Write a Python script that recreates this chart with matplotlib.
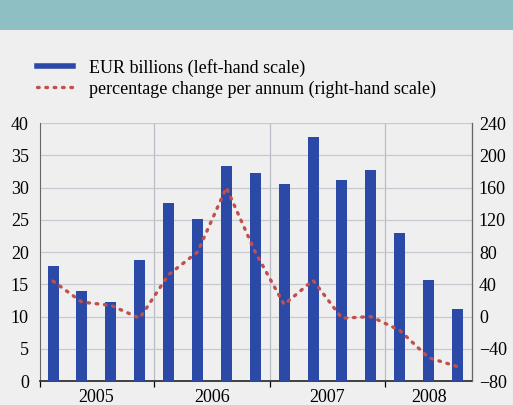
import matplotlib.pyplot as plt
import numpy as np
from matplotlib.patches import Rectangle
from matplotlib.lines import Line2D

# quarterly data 2005Q1 - 2008Q3
years = ['2005', '2006', '2007', '2008']
eur_bn = [17.8, 14.0, 12.3, 18.7, 27.6, 25.2, 33.4, 32.2,
          30.6, 37.8, 31.2, 32.8, 23.0, 15.7, 11.2]
pct_change = [44, 18, 14, -2, 52, 80, 160, 80,
              15, 45, -2, 0, -17, -51, -62]
left_ticks = [0, 5, 10, 15, 20, 25, 30, 35, 40]
right_ticks = [-80, -40, 0, 40, 80, 120, 160, 200, 240]

bg = '#efefef'
blue = '#2b4aa8'
red = '#c0504d'
fs = 13
plt.rcParams['font.family'] = ['Liberation Serif', 'DejaVu Serif']

fig = plt.figure(figsize=(5.13, 4.05), dpi=100, facecolor=bg)
fig.patches.append(Rectangle((0, 0.925), 1, 0.075, transform=fig.transFigure,
                             facecolor='#8dbfc3', edgecolor='none', zorder=0))

ax = fig.add_axes([0.078, 0.059, 0.842, 0.637])
ax.set_facecolor(bg)
x = np.arange(len(eur_bn))
ax.bar(x, eur_bn, width=0.38, color=blue, zorder=3)
ax.set_xlim(-0.45, 14.5)
ax.set_ylim(0, 40)
ax.set_yticks(left_ticks)
ax.grid(axis='y', color='#c8c8d0', linewidth=0.9, zorder=0)
for b in [3.5, 7.5, 11.5]:
    ax.axvline(b, color='#bcbcc8', linewidth=0.9, zorder=0)

ax.set_xticks([-0.45, 3.5, 7.5, 11.5])
ax.set_xticklabels([])
ax.set_xticks([1.5, 5.5, 9.5, 13], minor=True)
ax.set_xticklabels(years, minor=True)
ax.tick_params(axis='x', which='major', direction='out', length=4, width=0.9)
ax.tick_params(axis='x', which='minor', length=0, pad=6, labelsize=fs)
ax.tick_params(axis='y', length=0, pad=8, labelsize=fs)

ax.spines['top'].set_visible(False)
ax.spines['left'].set_color('#666666')
ax.spines['bottom'].set_color('#333333')
ax.spines['bottom'].set_linewidth(1.3)

ax2 = ax.twinx()
ax2.plot(x, pct_change, color=red, linewidth=2.4,
         linestyle=(0, (0.5, 2.0)), dash_capstyle='round', zorder=4)
ax2.set_ylim(-80, 240)
ax2.set_yticks(right_ticks)
ax2.tick_params(axis='y', length=0, pad=5, labelsize=fs)
ax2.spines['top'].set_visible(False)
ax2.spines['right'].set_color('#666666')
ax2.spines['left'].set_visible(False)
ax2.spines['bottom'].set_visible(False)

handles = [Line2D([], [], color=blue, linewidth=4),
           Line2D([], [], color=red, linewidth=2.4, linestyle=(0, (0.5, 2.0)),
                  dash_capstyle='round')]
labels = ['EUR billions (left-hand scale)',
          'percentage change per annum (right-hand scale)']
fig.legend(handles, labels, loc='upper left', bbox_to_anchor=(0.04, 0.895),
           frameon=False, fontsize=fs, handlelength=2.0, handletextpad=0.9,
           labelspacing=0.2)

fig.savefig('out.png', dpi=100, facecolor=bg)
